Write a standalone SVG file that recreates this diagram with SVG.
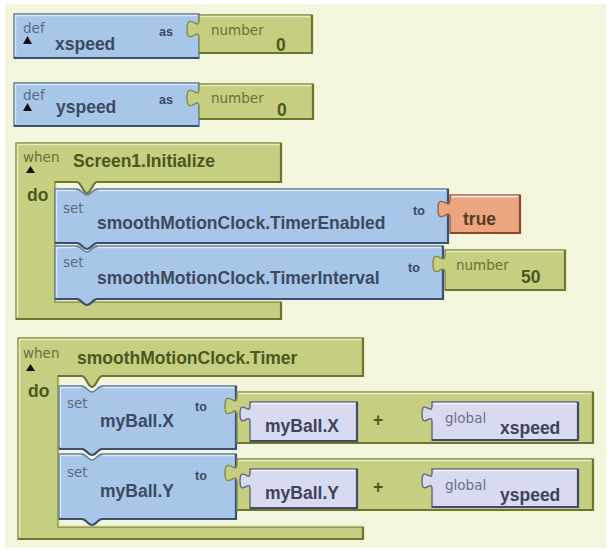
<svg xmlns="http://www.w3.org/2000/svg" width="609" height="550" viewBox="0 0 609 550">
<defs>
<style>
.blu{fill:#a8c6e7;stroke:#5d7798;stroke-width:1.4}
.olv{fill:#c6ce81;stroke:#838d44;stroke-width:1.4}
.lav{fill:#d7daf0;stroke:#5e6682;stroke-width:1.4}
.org{fill:#eba57f;stroke:#a0603f;stroke-width:1.4}
.hb{fill:none;stroke:#d9e7f6;stroke-width:1.4}
.ho{fill:none;stroke:#e8edbd;stroke-width:1.4}
.hl{fill:none;stroke:#f3f4fc;stroke-width:1.4}
.sb{fill:none;stroke:#3c5172;stroke-width:2.2}
.so{fill:none;stroke:#6c7630;stroke-width:2.2}
.sl{fill:none;stroke:#444b62;stroke-width:2.2}
.sr{fill:none;stroke:#8a4a2c;stroke-width:2.2}
text{font-family:"Liberation Sans",Arial,sans-serif}
.sm{font-family:"DejaVu Sans",Verdana,sans-serif;font-size:13.5px}
.bd{font-weight:bold;font-size:17.5px}
.kw{font-weight:bold;font-size:12.5px}
.tb{fill:#3b4a60}
.tbs{fill:#5a6b86}
.to{fill:#4b5820}
.tos{fill:#66723a}
.tl{fill:#3c4458}
.tls{fill:#68708e}
.tr{fill:#5a3b22}
.tri{fill:#111}
</style>
</defs>

<rect width="609" height="550" fill="#ffffff"/>
<rect x="5" y="4" width="601" height="544" fill="#f3f5dc"/>

<!-- def xspeed as number 0 -->
<g id="def-xspeed">
  <path class="blu" d="M14,14H199V58H14Z"/>
  <path class="hb" d="M15.5,56V15.5H197"/>
  <path class="sb" d="M14,58H199"/>
  <path class="olv" d="M199,15v5c0,12 -12,-9 -12,9s12,-3 12,9V53H312V15Z"/>
  <path class="ho" d="M200.5,16.5H310.5"/>
  <path class="so" d="M199,53H312V15"/>
  <text class="sm tbs" x="23" y="33" font-size="12.5">def</text>
  <polygon class="tri" points="23,44 27.5,36 32,44"/>
  <text class="bd tb" x="55" y="50">xspeed</text>
  <text class="kw tb" x="159" y="36">as</text>
  <text class="sm tos" x="211" y="35">number</text>
  <text class="bd to" x="276" y="51" font-size="19">0</text>
</g>

<!-- def yspeed as number 0 -->
<g id="def-yspeed">
  <path class="blu" d="M14,83H199V126H14Z"/>
  <path class="hb" d="M15.5,124V84.5H197"/>
  <path class="sb" d="M14,126H199"/>
  <path class="olv" d="M199,84v5c0,12 -12,-9 -12,9s12,-3 12,9V119H313V84Z"/>
  <path class="ho" d="M200.5,85.5H311.5"/>
  <path class="so" d="M199,119H313V84"/>
  <text class="sm tbs" x="23" y="100" font-size="12.5">def</text>
  <polygon class="tri" points="23,111 27.5,103 32,111"/>
  <text class="bd tb" x="56" y="113">yspeed</text>
  <text class="kw tb" x="159" y="104">as</text>
  <text class="sm tos" x="211" y="103">number</text>
  <text class="bd to" x="277" y="116" font-size="19">0</text>
</g>

<!-- when Screen1.Initialize -->
<g id="when-screen1-initialize">
  <path class="olv" d="M16,143H281V182H97c-4,0 -6,11 -10,11c-4,0 -6,-11 -10,-11H55V302H281V319H16Z"/>
  <path class="ho" d="M17.5,317V144.5H279.5M56.5,184V300.5H279"/>
  <path class="so" d="M281,143V182H97c-4,0 -6,11 -10,11c-4,0 -6,-11 -10,-11H55M16,319H281V302"/>
  <text class="sm tos" x="23" y="162">when</text>
  <polygon class="tri" points="26,173 30.5,166 35,173"/>
  <text class="bd to" x="73" y="167">Screen1.Initialize</text>
  <text class="bd to" x="27" y="201" font-size="14">do</text>
</g>

<!-- set smoothMotionClock.TimerEnabled to true -->
<g id="set-timer-enabled">
  <path class="blu" d="M55,189H77c4,0 6,6 10,6c4,0 6,-6 10,-6H448V243H97c-4,0 -6,6 -10,6c-4,0 -6,-6 -10,-6H55Z"/>
  <path class="hb" d="M56.5,241V190.5H76M98,190.5H446"/>
  <path class="sb" d="M448,189V243H97c-4,0 -6,6 -10,6c-4,0 -6,-6 -10,-6H55"/>
  <path class="org" d="M450,195v5c0,12 -12,-9 -12,9s12,-3 12,9V233H520V195Z"/>
  <path class="hl" d="M451.5,196.5H518.5" stroke="#f6cfb8"/>
  <path class="sr" d="M450,233H520V195"/>
  <text class="sm tbs" x="63" y="213">set</text>
  <text class="bd tb" x="97" y="229">smoothMotionClock.TimerEnabled</text>
  <text class="kw tb" x="413" y="215">to</text>
  <text class="bd tr" x="463" y="225">true</text>
</g>

<!-- set smoothMotionClock.TimerInterval to number 50 -->
<g id="set-timer-interval">
  <path class="blu" d="M55,246H77c4,0 6,6 10,6c4,0 6,-6 10,-6H443V299H97c-4,0 -6,6 -10,6c-4,0 -6,-6 -10,-6H55Z"/>
  <path class="hb" d="M56.5,297V247.5H76M98,247.5H441"/>
  <path class="sb" d="M443,246V299H97c-4,0 -6,6 -10,6c-4,0 -6,-6 -10,-6H55"/>
  <path class="olv" d="M445,250v5c0,12 -12,-9 -12,9s12,-3 12,9V290H565V250Z"/>
  <path class="ho" d="M446.5,251.5H563.5"/>
  <path class="so" d="M445,290H565V250"/>
  <text class="sm tbs" x="63" y="267">set</text>
  <text class="bd tb" x="97" y="284">smoothMotionClock.TimerInterval</text>
  <text class="kw tb" x="408" y="272">to</text>
  <text class="sm tos" x="456" y="270">number</text>
  <text class="bd to" x="521" y="283" font-size="18">50</text>
</g>

<!-- when smoothMotionClock.Timer -->
<g id="when-clock-timer">
  <path class="olv" d="M18,338H363V376H102c-4,0 -6,11 -10,11c-4,0 -6,-11 -10,-11H58V527H363V539H18Z"/>
  <path class="ho" d="M19.5,537V339.5H361.5M59.5,378V525.5H361"/>
  <path class="so" d="M363,338V376H102c-4,0 -6,11 -10,11c-4,0 -6,-11 -10,-11H58M18,539H363V527"/>
  <text class="sm tos" x="23" y="358">when</text>
  <polygon class="tri" points="26,371 30.5,364 35,371"/>
  <text class="bd to" x="77" y="364">smoothMotionClock.Timer</text>
  <text class="bd to" x="28" y="397" font-size="14">do</text>
</g>

<!-- set myBall.X to (myBall.X + global xspeed) -->
<g id="set-myball-x">
  <path class="blu" d="M59,386H82c4,0 6,6 10,6c4,0 6,-6 10,-6H236V449H102c-4,0 -6,6 -10,6c-4,0 -6,-6 -10,-6H59Z"/>
  <path class="hb" d="M60.5,447V387.5H81M103,387.5H234"/>
  <path class="sb" d="M236,386V449H102c-4,0 -6,6 -10,6c-4,0 -6,-6 -10,-6H59"/>
  <text class="sm tbs" x="67" y="408">set</text>
  <text class="bd tb" x="100" y="427">myBall.X</text>
  <text class="kw tb" x="195" y="411">to</text>
</g>
<g id="add-x">
  <path class="olv" d="M237,392v5c0,12 -12,-9 -12,9s12,-3 12,9V443H593V392Z"/>
  <path class="ho" d="M238.5,393.5H591.5"/>
  <path class="so" d="M237,443H593V392"/>
  <text class="bd to" x="373" y="426" font-size="15">+</text>
</g>
<g id="get-myball-x">
  <path class="lav" d="M250,402v4c0,10 -10,-8 -10,8s10,-2.5 10,8V441H357V402Z"/>
  <path class="hl" d="M251.5,403.5H355.5"/>
  <path class="sl" d="M250,441H357V402"/>
  <text class="bd tl" x="265" y="432">myBall.X</text>
</g>
<g id="get-global-xspeed">
  <path class="lav" d="M432,402v4c0,10 -10,-8 -10,8s10,-2.5 10,8V440H578V402Z"/>
  <path class="hl" d="M433.5,403.5H576.5"/>
  <path class="sl" d="M432,440H578V402"/>
  <text class="sm tls" x="445" y="423">global</text>
  <text class="bd tl" x="500" y="434">xspeed</text>
</g>

<!-- set myBall.Y to (myBall.Y + global yspeed) -->
<g id="set-myball-y">
  <path class="blu" d="M59,454H82c4,0 6,6 10,6c4,0 6,-6 10,-6H236V519H102c-4,0 -6,6 -10,6c-4,0 -6,-6 -10,-6H59Z"/>
  <path class="hb" d="M60.5,517V455.5H81M103,455.5H234"/>
  <path class="sb" d="M236,454V519H102c-4,0 -6,6 -10,6c-4,0 -6,-6 -10,-6H59"/>
  <text class="sm tbs" x="67" y="477">set</text>
  <text class="bd tb" x="100" y="497">myBall.Y</text>
  <text class="kw tb" x="195" y="480">to</text>
</g>
<g id="add-y">
  <path class="olv" d="M237,459v5c0,12 -12,-9 -12,9s12,-3 12,9V510H593V459Z"/>
  <path class="ho" d="M238.5,460.5H591.5"/>
  <path class="so" d="M237,510H593V459"/>
  <text class="bd to" x="373" y="493" font-size="15">+</text>
</g>
<g id="get-myball-y">
  <path class="lav" d="M250,469v4c0,10 -10,-8 -10,8s10,-2.5 10,8V508H357V469Z"/>
  <path class="hl" d="M251.5,470.5H355.5"/>
  <path class="sl" d="M250,508H357V469"/>
  <text class="bd tl" x="265" y="499">myBall.Y</text>
</g>
<g id="get-global-yspeed">
  <path class="lav" d="M432,469v4c0,10 -10,-8 -10,8s10,-2.5 10,8V507H578V469Z"/>
  <path class="hl" d="M433.5,470.5H576.5"/>
  <path class="sl" d="M432,507H578V469"/>
  <text class="sm tls" x="445" y="490">global</text>
  <text class="bd tl" x="500" y="501">yspeed</text>
</g>
</svg>
